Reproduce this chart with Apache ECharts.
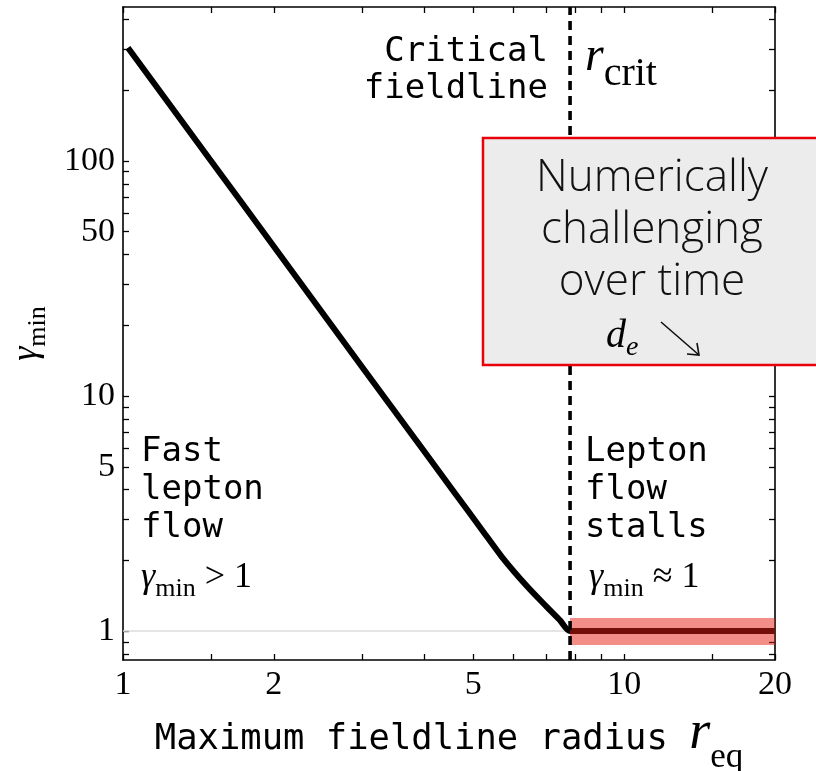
<!DOCTYPE html>
<html>
<head>
<meta charset="utf-8">
<script src="https://cdn.jsdelivr.net/npm/echarts@6/dist/echarts.min.js"></script>
<style>
  html, body { margin: 0; padding: 0; background: #fff; }
  #main { width: 816px; height: 771px; }
</style>
</head>
<body>
<div id="main"></div>
<script>
// gamma_min vs maximum fieldline radius
const rEq = [1.023, 1.5, 2.0, 3.0, 4.0, 4.6, 5.2, 5.7, 6.4, 7.0, 7.45, 7.8, 20];
const gammaMin = [303, 99.7, 43.3, 13.3, 5.78, 3.85, 2.70, 2.07, 1.55, 1.27, 1.11, 1.0, 1.0];
const rCrit = 7.8;
const stallBand = [0.872, 1.136];
const xRange = [1, 20];
const yRange = [0.753, 452];
const xTickLabels = [1, 2, 5, 10, 20];
const xTicks = [1, 1.5, 2, 3, 4, 5, 6, 7, 8, 9, 10, 15, 20];
const yTickLabels = [1, 5, 10, 50, 100];
const yTicks = [0.8, 0.9, 1, 2, 3, 4, 5, 6, 7, 8, 9, 10, 20, 30, 40, 50, 60, 70, 80, 90, 100, 200, 300, 400];

const SERIF = 'Liberation Serif';
const MONO = 'DejaVu Sans Mono';
const RED = '#e3251c';

// rich text with subscripts: every token top aligned, heights chosen so baselines line up
function richLine(parts) {
  const maxF = Math.max.apply(null, parts.map(p => p.size));
  const base = 0.8 * maxF;
  const rich = {};
  let text = '';
  parts.forEach((p, i) => {
    const key = 't' + i;
    const b = base + (p.drop || 0);
    rich[key] = {
      fontFamily: p.family || SERIF,
      fontStyle: p.italic ? 'italic' : 'normal',
      fontSize: p.size,
      height: 2 * (b - 0.3 * p.size),
      verticalAlign: 'top',
      color: p.color || '#000'
    };
    text += '{' + key + '|' + p.t + '}';
  });
  return { text: text, rich: rich };
}

const xName = richLine([
  { t: 'Maximum fieldline radius ', size: 35.5, family: MONO },
  { t: 'r', size: 54, italic: true },
  { t: 'eq', size: 35, drop: 18 }
]);
const yName = richLine([
  { t: 'γ', size: 36, italic: true },
  { t: 'min', size: 26, drop: 8 }
]);
const rCritText = richLine([
  { t: 'r', size: 48, italic: true },
  { t: 'crit', size: 40, drop: 15 }
]);
const fastText = richLine([
  { t: 'γ', size: 36, italic: true },
  { t: 'min', size: 26, drop: 8 },
  { t: ' > 1', size: 36 }
]);
const stallText = richLine([
  { t: 'γ', size: 36, italic: true, color: RED },
  { t: 'min', size: 26, drop: 8, color: RED },
  { t: ' ≈ 1', size: 36, color: RED }
]);
const deText = richLine([
  { t: 'd', size: 40, italic: true, color: '#111' },
  { t: 'e', size: 28, italic: true, drop: 8, color: '#111' }
]);

function makeAxis(kind, position, withLabels) {
  const isX = kind === 'x';
  return {
    type: 'log',
    logBase: 10,
    position: position,
    min: isX ? xRange[0] : yRange[0],
    max: isX ? xRange[1] : yRange[1],
    axisLine: { show: true, onZero: false, lineStyle: { color: '#000', width: 1.6 } },
    axisTick: {
      show: true, inside: true, length: 6,
      customValues: isX ? xTicks : yTicks,
      lineStyle: { color: '#000', width: 1.3 }
    },
    minorTick: { show: false },
    splitLine: { show: false },
    axisLabel: {
      show: withLabels,
      customValues: isX ? xTickLabels : yTickLabels,
      formatter: v => String(v),
      fontFamily: SERIF,
      fontSize: 34,
      color: '#000',
      margin: 8
    }
  };
}

const xBottom = makeAxis('x', 'bottom', true);
xBottom.name = xName.text;
xBottom.nameLocation = 'middle';
xBottom.nameGap = 47;
xBottom.nameTextStyle = { rich: xName.rich };
const yLeft = makeAxis('y', 'left', true);
yLeft.name = yName.text;
yLeft.nameLocation = 'middle';
yLeft.nameGap = 56;
yLeft.nameRotate = 90;
yLeft.nameTextStyle = { rich: yName.rich };

const chart = echarts.init(document.getElementById('main'), null, { renderer: 'canvas' });

const option = {
  animation: false,
  backgroundColor: '#fff',
  grid: { left: 123, right: 41, top: 7, bottom: 111, outerBoundsMode: 'none' },
  xAxis: [xBottom, makeAxis('x', 'top', false)],
  yAxis: [yLeft, makeAxis('y', 'right', false)],
  series: [
    {
      name: 'unity',
      type: 'line',
      silent: true,
      symbol: 'none',
      z: 1,
      lineStyle: { color: '#dddddd', width: 1.5 },
      data: [[xRange[0], 1], [xRange[1], 1]]
    },
    {
      name: 'gamma_min',
      type: 'line',
      symbol: 'none',
      z: 2,
      smooth: 0.25,
      lineStyle: { color: '#000', width: 6, join: 'round' },
      data: rEq.map((r, i) => [r, gammaMin[i]])
    },
    {
      name: 'stall band',
      type: 'custom',
      z: 3,
      silent: true,
      renderItem: function (params, api) {
        const p1 = api.coord([api.value(0), api.value(1)]);
        const p2 = api.coord([api.value(2), api.value(3)]);
        return {
          type: 'rect',
          shape: { x: p1[0], y: p2[1], width: p2[0] - p1[0], height: p1[1] - p2[1] },
          style: { fill: 'rgba(232,28,18,0.5)' }
        };
      },
      data: [[rCrit, stallBand[0], xRange[1], stallBand[1]]]
    },
    {
      name: 'critical fieldline',
      type: 'line',
      symbol: 'none',
      z: 4,
      silent: true,
      lineStyle: { color: '#000', width: 3.6, type: [9, 6] },
      data: [[rCrit, yRange[0]], [rCrit, yRange[1]]]
    }
  ],
  graphic: [
    {
      type: 'text', x: 548, y: 34, z: 10,
      style: { text: 'Critical\nfieldline', align: 'right', verticalAlign: 'top',
        fontFamily: MONO, fontSize: 34, lineHeight: 37, fill: '#000' }
    },
    {
      type: 'text', x: 585, y: 33, z: 10,
      style: { text: rCritText.text, rich: rCritText.rich, align: 'left', verticalAlign: 'top' }
    },
    {
      type: 'text', x: 141, y: 433, z: 10,
      style: { text: 'Fast\nlepton\nflow', align: 'left', verticalAlign: 'top',
        fontFamily: MONO, fontSize: 34, lineHeight: 38, fill: '#000' }
    },
    {
      type: 'text', x: 141, y: 560, z: 10,
      style: { text: fastText.text, rich: fastText.rich, align: 'left', verticalAlign: 'top' }
    },
    {
      type: 'text', x: 585, y: 433, z: 10,
      style: { text: 'Lepton\nflow\nstalls', align: 'left', verticalAlign: 'top',
        fontFamily: MONO, fontSize: 34, lineHeight: 38, fill: '#000' }
    },
    {
      type: 'text', x: 589, y: 560, z: 10,
      style: { text: stallText.text, rich: stallText.rich, align: 'left', verticalAlign: 'top' }
    },
    {
      type: 'rect', z: 20,
      shape: { x: 483, y: 138, width: 345, height: 227 },
      style: { fill: '#ececec', stroke: '#e8000b', lineWidth: 2.5 }
    },
    {
      type: 'text', x: 652, y: 152, z: 21,
      style: { text: 'Numerically\nchallenging\nover time', align: 'center', verticalAlign: 'top',
        fontFamily: 'Open Sans', fontWeight: 300, fontSize: 44, lineHeight: 52, fill: '#111' }
    },
    {
      type: 'text', x: 606, y: 316, z: 21,
      style: { text: deText.text, rich: deText.rich, align: 'left', verticalAlign: 'top' }
    },
    {
      type: 'polyline', z: 21,
      shape: { points: [[661, 322], [699, 355]] },
      style: { stroke: '#111', lineWidth: 1.6, fill: null }
    },
    {
      type: 'polyline', z: 21,
      shape: { points: [[687, 354], [699, 355], [697, 343]] },
      style: { stroke: '#111', lineWidth: 1.6, fill: null }
    }
  ]
};

chart.setOption(option);
</script>
</body>
</html>
